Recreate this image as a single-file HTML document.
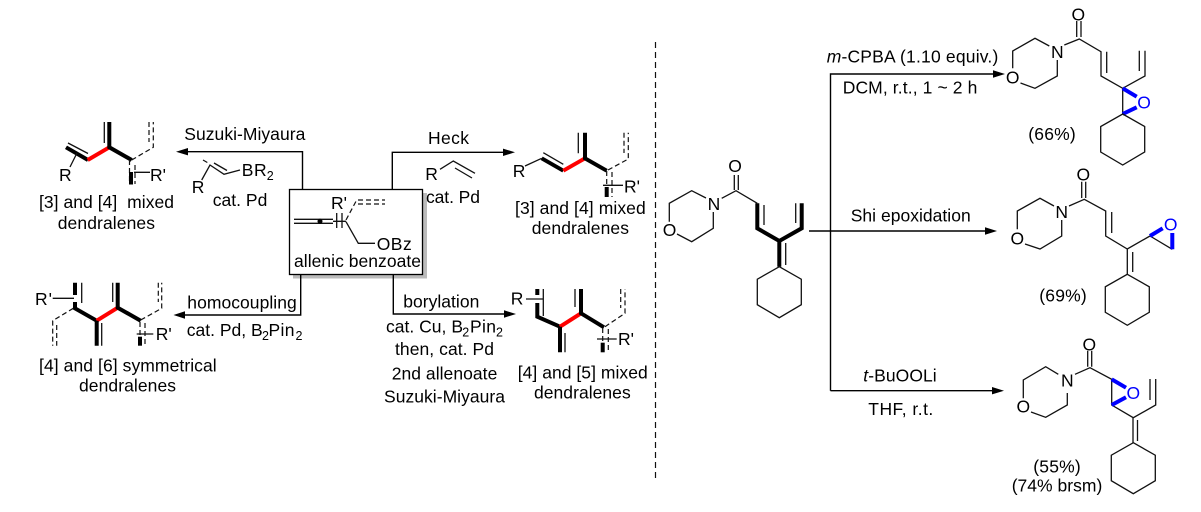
<!DOCTYPE html>
<html>
<head>
<meta charset="utf-8">
<style>
html,body{margin:0;padding:0;background:#fff;width:1201px;height:512px;overflow:hidden}
svg{display:block}
text{font-family:"Liberation Sans",sans-serif;font-size:17.5px;fill:#000}
.m{text-anchor:middle;font-size:17.5px}
.l{stroke:#111;stroke-width:1.3;fill:none}
.a{stroke:#000;stroke-width:1.4;fill:none}
.b{stroke:#000;stroke-width:4;fill:none}
.r{stroke:#f00;stroke-width:4;fill:none}
.u{stroke:#00f;stroke-width:4;fill:none}
.d{stroke:#111;stroke-width:1.2;fill:none;stroke-dasharray:5 3}
.s{font-size:12.5px}
</style>
</head>
<body>
<svg width="1201" height="512" viewBox="0 0 1201 512" xmlns="http://www.w3.org/2000/svg">
<defs>
<path id="hex" class="l" d="M0 0L22 12.5V38L0 51L-22 38V12.5Z"/>
</defs>

<!-- divider -->
<path d="M655.5 42V478" stroke="#111" stroke-width="1.2" stroke-dasharray="6 4" fill="none"/>

<!-- central box -->
<rect x="293" y="193" width="134" height="85.5" fill="#bbb"/>
<rect x="289.5" y="189.5" width="133" height="85" fill="#fff" stroke="#000" stroke-width="1.3"/>

<!-- left arrows -->
<path class="a" d="M302.5 189V151.7H185"/><path d="M176 151.7L188 148V155.4Z"/>
<path class="a" d="M392.3 189V152.3H505"/><path d="M515 152.3L503 148.6V156Z"/>
<path class="a" d="M300.7 275V315H182"/><path d="M173.5 315L185 311.3V318.7Z"/>
<path class="a" d="M393.3 275V314H506"/><path d="M516 314L504 310.3V317.7Z"/>

<!-- allenic benzoate -->
<path class="l" d="M294 219.3H333M294 223.3H333M333 221.3H346M336.7 213V228M342 213V228M346 221.7L358.3 243.3H375"/>
<circle cx="320" cy="221.3" r="2.5" fill="#000"/>
<path class="d" d="M346 220L356.7 200H385M358 204H385" stroke-dasharray="4 3"/>
<text x="331" y="209">R'</text>
<text x="376.7" y="250" textLength="35">OBz</text>
<text x="294" y="267" textLength="127">allenic benzoate</text>

<!-- Suzuki top-left -->
<text x="184.3" y="140" textLength="121">Suzuki-Miyaura</text>
<path class="l" d="M201.7 180L210 165L224 174.3L240 170M214 163L227 170.5"/>
<path class="d" d="M203 160L209 163.5" stroke-dasharray="3 2"/>
<text x="241.7" y="176" textLength="25">BR</text><text class="s" x="266.7" y="180">2</text>
<text x="191.7" y="193">R</text>
<text x="212.7" y="206" textLength="54.6">cat. Pd</text>

<!-- dendralene 1 -->
<path class="b" d="M66 147.3L88 160"/>
<path class="l" d="M68 143L88 153.5M77 153L70 167"/>
<path class="r" d="M87.7 160L109.3 147.3"/>
<path class="b" d="M109.3 122V147.3L131.7 160"/>
<path class="l" d="M104.3 122V143M134 172.3H150"/>
<path class="d" d="M131.7 160L153.3 147.3V122M149 122V142M129.5 160V184M135 165V184"/>
<path class="b" d="M131 172V184.5"/>
<text x="59" y="181">R</text><text x="150" y="181">R'</text>
<text x="39" y="208" textLength="135" xml:space="preserve">[3] and [4]  mixed</text>
<text x="57.7" y="229" textLength="97.3">dendralenes</text>

<!-- Heck -->
<text x="428" y="144" textLength="41">Heck</text>
<path class="l" d="M440 169.3L453.3 161L475 173.3M455 168L472 178"/>
<text x="425.3" y="180">R</text>
<text x="426" y="203" textLength="54">cat. Pd</text>

<!-- dendralene 2 -->
<path class="l" d="M525 166L541.7 158.3M543.3 152.7L563.3 164.3M578.3 132.7V153.3M603 185.3H623"/>
<path class="b" d="M541.7 158.3L563.3 170.7"/>
<path class="r" d="M563.3 170.7L585 158.3"/>
<path class="b" d="M585 132.7V158.3L606.7 170.7"/>
<path class="d" d="M608 170L628.3 159V132.7M624 132.7V153M606.7 171V197M612 172V197"/>
<path class="b" d="M606.7 187V197"/>
<text x="512.7" y="177">R</text><text x="624" y="192.7">R'</text>
<text x="515" y="214" textLength="130.7">[3] and [4] mixed</text>
<text x="531.7" y="234" textLength="97.3">dendralenes</text>

<!-- homocoupling -->
<text x="187.3" y="308.3" textLength="109.4">homocoupling</text>
<text x="186.7" y="336" textLength="76">cat. Pd, B</text>
<text class="s" x="262" y="340">2</text>
<text x="268.5" y="336" textLength="26">Pin</text>
<text class="s" x="295.5" y="340">2</text>

<!-- dendralene 3 -->
<path class="l" d="M52.7 298.3H74M81.7 282.7V303M112.7 282.7V302M101.7 323V345.7M136.7 334H153.3"/>
<path class="b" d="M75 282.7V295M75 302V308.3L96.7 320.7"/>
<path class="r" d="M96.7 320.7L117.7 307.7"/>
<path class="b" d="M117.7 282.7V307.7L140.7 320.7M96.7 320.7V345.7"/>
<path class="d" d="M140.7 320L161.7 308.3V282.7M158.3 282.7V302M73.3 308.3L52.7 320.7V345.7M56.7 325V345.7M140 322V345.7M145 323V345.7"/>
<path class="b" d="M140 336.7V345.7"/>
<text x="35" y="305" textLength="17">R'</text><text x="155.7" y="340">R'</text>
<text x="39" y="371.7" textLength="177.7">[4] and [6] symmetrical</text>
<text x="79" y="391.7" textLength="97">dendralenes</text>

<!-- borylation -->
<text x="403.3" y="307.7" textLength="76">borylation</text>
<text x="386" y="332.3" textLength="77">cat. Cu, B</text>
<text class="s" x="462.3" y="336.3">2</text>
<text x="470" y="332.3" textLength="26">Pin</text>
<text class="s" x="496" y="336.3">2</text>
<text x="395" y="355" textLength="99">then, cat. Pd</text>
<text x="391.7" y="379.3" textLength="105.6">2nd allenoate</text>
<text x="384" y="402.3" textLength="121">Suzuki-Miyaura</text>

<!-- dendralene 4 -->
<path class="l" d="M526 299H543.3M543.3 289V316M575 289V307M565 333V352.3M597 339H616.7"/>
<path class="b" d="M537.3 289V295M537.3 303V316.7L560 326.7"/>
<path class="r" d="M560 326.7L581 313.3"/>
<path class="b" d="M581 289V313.3L604 327.3M560 326.7V352.3"/>
<path class="d" d="M605 326.7L625 313.3V289M620.7 289V308M602.7 328V352M608.3 329V352"/>
<path class="b" d="M602.7 342.7V352.3"/>
<text x="510.7" y="304.3">R</text><text x="618" y="345">R'</text>
<text x="517.7" y="378.3" textLength="130">[4] and [5] mixed</text>
<text x="534" y="398.3" textLength="96.7">dendralenes</text>

<!-- starting material -->
<text class="m" x="735" y="172">O</text>
<text class="m" x="714" y="210">N</text>
<text class="m" x="669.5" y="236">O</text>
<path class="l" d="M734.3 175V190M738.3 175V190M721.7 198.3L736 190.7L757.3 203.3M706 198L691.7 190.7L669.3 203.3V221.7M677 234L691.7 241.7L713.3 228.3V212M764 205V225M795.7 203.3V223M785.7 243V265"/>
<path class="b" d="M757.3 203.3V228.3L779.3 241L801.7 228.3V203.3M779.3 241V266.7"/>
<use href="#hex" x="779.3" y="266.7"/>

<!-- right arrows -->
<path class="a" d="M830.5 390.7V74H995"/><path d="M1005 74L993 70.3V77.7Z"/>
<path class="a" d="M809 231H987"/><path d="M997 231L985 227.3V234.7Z"/>
<path class="a" d="M830.5 390.7H994"/><path d="M1004 390.7L992 387V394.4Z"/>

<text x="826.7" y="62.7" textLength="171.6"><tspan font-style="italic">m</tspan>-CPBA (1.10 equiv.)</text>
<text x="842.7" y="93.3" textLength="134.6">DCM, r.t., 1 ~ 2 h</text>
<text x="850.7" y="221.7" textLength="120">Shi epoxidation</text>
<text x="863.3" y="381.7" textLength="73.4"><tspan font-style="italic">t</tspan>-BuOOLi</text>
<text x="868.3" y="415" textLength="65">THF, r.t.</text>

<!-- product 1 -->
<text class="m" x="1078.3" y="20.5">O</text>
<text class="m" x="1057.3" y="58">N</text>
<text class="m" x="1012.7" y="83.5">O</text>
<text class="m" x="1144" y="108.5" style="fill:#00f">O</text>
<path class="l" d="M1076.7 21V37M1081 21V37M1064.3 45L1079.3 39L1101 51.7V76L1122.7 88.3L1145 76V50.7M1106.7 51.7V73M1139.3 50.7V71M1049.3 46L1035 38.3L1012.7 51V68.3M1020.5 83L1035 88.3L1057.3 76V60M1122.7 88.3V114"/>
<path class="u" d="M1122.7 88.3L1136.7 96.7M1122.7 114L1136.7 107.3"/>
<use href="#hex" x="1122.7" y="114"/>
<text x="1028.3" y="140" textLength="47.4">(66%)</text>

<!-- product 2 -->
<text class="m" x="1083.3" y="180.5">O</text>
<text class="m" x="1061.7" y="218">N</text>
<text class="m" x="1017.3" y="244.5">O</text>
<text class="m" x="1170.7" y="230.5" style="fill:#00f">O</text>
<path class="l" d="M1081.7 181.7V198M1085.7 181.7V198M1069 206L1084.3 199.3L1105.7 211V236L1127.3 249L1150 236M1111.7 212V233M1127.3 249V274.3M1132.7 252V272M1054 206L1040 198.3L1017.3 211V229.3M1025 244L1040 249L1061.7 236V220M1150 236L1172.3 249.3"/>
<path class="u" d="M1150 236L1162.7 228.3M1172.3 233V249.3"/>
<use href="#hex" x="1127.3" y="274.3"/>
<text x="1039.3" y="301.7" textLength="47.4">(69%)</text>

<!-- product 3 -->
<text class="m" x="1089.3" y="350.5">O</text>
<text class="m" x="1067.3" y="386.5">N</text>
<text class="m" x="1023.3" y="412.5">O</text>
<text class="m" x="1133.3" y="399" style="fill:#00f">O</text>
<path class="l" d="M1087.7 350.7V366.7M1091.7 350.7V366.7M1075 374.3L1090 367.7L1111.7 379.3V405L1133.3 417.7L1155.7 405V379M1150 379V400M1133 417.7V442.7M1137.5 420V441M1058.3 374.3L1045.7 366.7L1023.3 380V398.3M1031 412L1045.7 417.3L1067.3 405V393"/>
<path class="u" d="M1111.7 379.3L1126 387.7M1111.7 405L1126 397.3"/>
<use href="#hex" x="1133.3" y="442.7"/>
<text x="1033.3" y="472.3" textLength="47.4">(55%)</text>
<text x="1011.7" y="491.7" textLength="90.6">(74% brsm)</text>
</svg>
</body>
</html>
